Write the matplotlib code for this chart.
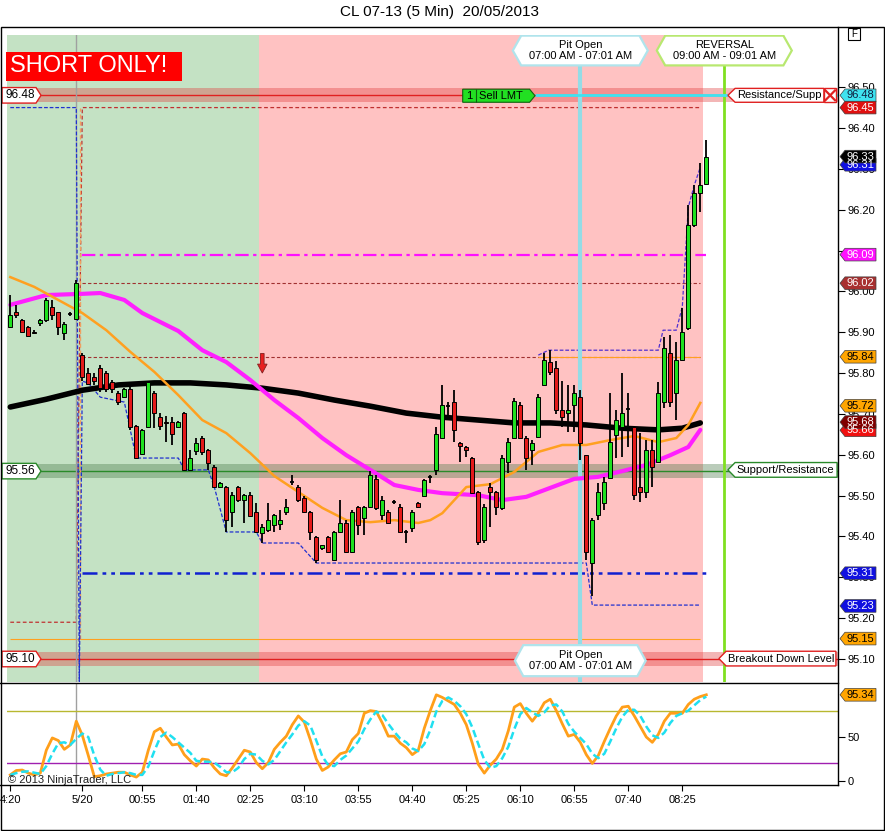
import matplotlib
matplotlib.use('Agg')
import matplotlib.pyplot as plt
from matplotlib.patches import Polygon, Rectangle
from matplotlib.lines import Line2D
from matplotlib.transforms import blended_transform_factory

plt.rcParams['font.family'] = ['Liberation Sans', 'DejaVu Sans']
plt.rcParams['font.size'] = 8

W, H = 885, 831

# 5 min bars (bar 0 = first bar on the left)
opens = [95.913, 95.949, 95.930, 95.913, 95.900, 95.922, 95.930, 95.962, 95.949, 95.898,
         95.945, 95.932, 95.844, 95.800, 95.790, 95.812, 95.800, 95.778, 95.751, 95.741,
         95.761, 95.670, 95.602, 95.668, 95.751, 95.692, 95.680, 95.680, 95.668, 95.702,
         95.563, 95.609, 95.641, 95.612, 95.570, 95.521, 95.521, 95.460, 95.521, 95.489,
         95.501, 95.460, 95.408, 95.416, 95.428, 95.430, 95.460, 95.533, 95.521, 95.494,
         95.460, 95.399, 95.372, 95.399, 95.342, 95.411, 95.433, 95.362, 95.472, 95.445,
         95.472, 95.540, 95.452, 95.460, 95.485, 95.472, 95.411, 95.420, 95.482, 95.500,
         95.545, 95.563, 95.641, 95.720, 95.729, 95.629, 95.619, 95.592, 95.509, 95.391,
         95.521, 95.509, 95.470, 95.582, 95.641, 95.722, 95.641, 95.612, 95.643, 95.771,
         95.827, 95.812, 95.710, 95.702, 95.722, 95.741, 95.599, 95.335, 95.452, 95.482,
         95.543, 95.648, 95.668, 95.712, 95.668, 95.521, 95.509, 95.612, 95.582, 95.729,
         95.849, 95.751, 95.832, 95.910, 96.162, 96.241, 96.263]
highs = [95.991, 95.966, 95.932, 95.915, 95.905, 95.932, 95.983, 95.978, 95.950, 95.925,
         95.950, 96.028, 95.850, 95.812, 95.800, 95.820, 95.805, 95.783, 95.755, 95.763,
         95.765, 95.672, 95.662, 95.780, 95.755, 95.702, 95.695, 95.692, 95.682, 95.704,
         95.612, 95.640, 95.645, 95.615, 95.575, 95.533, 95.523, 95.510, 95.523, 95.505,
         95.509, 95.482, 95.430, 95.482, 95.455, 95.465, 95.492, 95.550, 95.526, 95.500,
         95.462, 95.400, 95.380, 95.401, 95.413, 95.490, 95.440, 95.465, 95.475, 95.475,
         95.560, 95.550, 95.500, 95.465, 95.490, 95.480, 95.415, 95.465, 95.485, 95.540,
         95.550, 95.668, 95.771, 95.730, 95.758, 95.632, 95.622, 95.595, 95.511, 95.480,
         95.531, 95.511, 95.600, 95.640, 95.738, 95.730, 95.645, 95.635, 95.750, 95.850,
         95.856, 95.830, 95.780, 95.770, 95.770, 95.758, 95.600, 95.445, 95.531, 95.545,
         95.751, 95.710, 95.800, 95.751, 95.670, 95.653, 95.636, 95.636, 95.778, 95.888,
         95.893, 95.876, 95.960, 96.211, 96.260, 96.314, 96.370]
lows = [95.910, 95.934, 95.900, 95.890, 95.895, 95.915, 95.925, 95.930, 95.893, 95.881,
        95.940, 95.930, 95.780, 95.770, 95.770, 95.754, 95.754, 95.751, 95.722, 95.740,
        95.660, 95.590, 95.600, 95.665, 95.666, 95.660, 95.631, 95.624, 95.666, 95.560,
        95.560, 95.600, 95.600, 95.563, 95.519, 95.519, 95.411, 95.423, 95.485, 95.433,
        95.448, 95.408, 95.384, 95.411, 95.411, 95.416, 95.452, 95.525, 95.485, 95.458,
        95.391, 95.335, 95.367, 95.360, 95.340, 95.408, 95.360, 95.360, 95.404, 95.404,
        95.470, 95.465, 95.440, 95.430, 95.480, 95.410, 95.384, 95.410, 95.470, 95.498,
        95.530, 95.550, 95.640, 95.690, 95.631, 95.582, 95.595, 95.505, 95.380, 95.385,
        95.423, 95.452, 95.465, 95.555, 95.640, 95.640, 95.563, 95.575, 95.640, 95.770,
        95.796, 95.700, 95.668, 95.655, 95.655, 95.587, 95.342, 95.255, 95.440, 95.465,
        95.543, 95.592, 95.594, 95.619, 95.489, 95.484, 95.494, 95.521, 95.580, 95.714,
        95.717, 95.685, 95.830, 95.905, 96.157, 96.194, 96.260]
closes = [95.942, 95.942, 95.900, 95.890, 95.897, 95.930, 95.979, 95.942, 95.913, 95.920,
          95.946, 96.020, 95.790, 95.773, 95.780, 95.763, 95.761, 95.761, 95.729, 95.761,
          95.669, 95.592, 95.661, 95.778, 95.702, 95.670, 95.677, 95.651, 95.680, 95.563,
          95.592, 95.629, 95.607, 95.580, 95.521, 95.531, 95.440, 95.501, 95.489, 95.501,
          95.450, 95.411, 95.423, 95.440, 95.452, 95.440, 95.472, 95.534, 95.489, 95.460,
          95.411, 95.342, 95.379, 95.362, 95.411, 95.433, 95.362, 95.460, 95.428, 95.472,
          95.550, 95.470, 95.489, 95.433, 95.486, 95.411, 95.412, 95.460, 95.472, 95.538,
          95.546, 95.651, 95.722, 95.721, 95.660, 95.621, 95.612, 95.506, 95.386, 95.472,
          95.509, 95.472, 95.592, 95.631, 95.731, 95.641, 95.592, 95.629, 95.741, 95.832,
          95.803, 95.710, 95.692, 95.709, 95.751, 95.630, 95.362, 95.440, 95.509, 95.533,
          95.631, 95.685, 95.702, 95.713, 95.501, 95.509, 95.612, 95.570, 95.751, 95.861,
          95.729, 95.832, 95.900, 96.162, 96.241, 96.260, 96.329]

# moving averages (bar, price)
black_ma_x = [0, 6, 12, 18, 24, 30, 36, 42, 48, 54, 60, 66, 72, 78, 84, 90, 96, 102, 108, 112, 115]
black_ma_y = [95.717, 95.736, 95.758, 95.771, 95.776, 95.776, 95.771, 95.763, 95.751, 95.734, 95.719,
              95.702, 95.692, 95.685, 95.678, 95.678, 95.673, 95.665, 95.661, 95.665, 95.678]
magenta_ma_x = [0, 6, 12, 15, 19, 22, 28, 32, 36, 40, 44, 48, 52, 56, 60, 64, 68, 72, 78, 82, 86, 90,
                94, 98, 102, 106, 110, 113, 115]
magenta_ma_y = [95.967, 95.991, 95.994, 95.996, 95.979, 95.947, 95.903, 95.856, 95.827, 95.783, 95.734,
                95.690, 95.641, 95.599, 95.563, 95.526, 95.514, 95.506, 95.501, 95.489, 95.497, 95.519,
                95.541, 95.546, 95.560, 95.575, 95.599, 95.619, 95.661]
orange_ma_x = [0, 4, 8, 12, 16, 20, 24, 28, 32, 36, 40, 44, 48, 52, 56, 60, 64, 68, 70, 72, 74, 76, 80,
               84, 88, 92, 96, 100, 104, 108, 111, 113, 115]
orange_ma_y = [96.035, 96.011, 95.979, 95.947, 95.905, 95.852, 95.803, 95.746, 95.685, 95.653, 95.604,
               95.548, 95.509, 95.470, 95.440, 95.435, 95.440, 95.433, 95.440, 95.457, 95.489, 95.521,
               95.528, 95.558, 95.607, 95.624, 95.624, 95.636, 95.646, 95.631, 95.641, 95.673, 95.727]

# channel step lines
low_step_x = [0, 11, 11.5, 12, 13, 15, 19, 21, 28, 29, 33, 34, 36, 41, 42, 48, 51, 96, 97, 115]
low_step_y = [96.45, 96.45, 95.04, 95.78, 95.776, 95.741, 95.729, 95.592, 95.592, 95.563, 95.563,
              95.521, 95.411, 95.411, 95.384, 95.384, 95.335, 95.335, 95.232, 95.232]
high_step_x = [88, 89.7, 108, 108.8, 111, 112, 113, 114, 115]
high_step_y = [95.844, 95.856, 95.856, 95.905, 95.905, 95.962, 96.206, 96.26, 96.304]
red_step_x = [0, 11, 12, 115]
red_step_y = [95.19, 95.19, 96.45, 96.45]

# stochastics
stoch_k = [7, 12, 12.5, 9, 7, 9, 35, 49, 46, 36, 41, 68, 52, 29, 5, 6, 8, 9, 10, 10,
           7, 4.5, 10, 35, 56, 60, 50, 41, 42, 30, 23, 17, 25, 24, 15, 8, 6, 15, 25, 35,
           33, 21, 14, 21, 36, 44, 51, 64, 74, 67, 47, 25, 12, 16, 24, 31, 33, 47, 54, 77,
           80, 79, 66, 51, 51, 43, 38, 30, 35, 60, 80, 98, 95, 91, 87, 77, 64, 43, 19, 9,
           18, 25, 36, 57, 84, 88, 77, 68, 77, 89, 93, 80, 65, 51, 53, 44, 30, 20, 29, 45,
           60, 74, 84, 85, 74, 62, 50, 44, 53, 68, 77, 77, 77, 87, 93, 96, 98]
stoch_d = [7, 9, 10.5, 11, 9.5, 8, 17, 31, 43, 44, 41, 48, 54, 50, 29, 13, 6, 8, 9, 10,
           9, 7, 7, 16.5, 34, 50, 55, 50, 44, 38, 32, 23, 22, 22, 21, 16, 10, 10, 15, 25,
           31, 30, 23, 19, 24, 34, 44, 53, 63, 68, 63, 46, 28, 18, 17, 24, 29, 37, 45, 59,
           70, 79, 75, 65, 56, 48, 44, 37, 34, 42, 58, 79, 91, 95, 91, 85, 76, 61, 42, 24,
           15, 17, 26, 39, 59, 76, 83, 78, 74, 78, 86, 87, 79, 65, 56, 49, 42, 31, 26, 31,
           45, 60, 73, 81, 81, 74, 62, 52, 49, 55, 66, 74, 77, 80, 86, 92, 96]

tick_bars = [0, 12, 22, 31, 40, 49, 58, 67, 76, 85, 94, 103, 112]
tick_labels = ['4:20', '5/20', '00:55', '01:40', '02:25', '03:10', '03:55', '04:40',
               '05:25', '06:10', '06:55', '07:40', '08:25']

# right axis price markers
tag_prices = [96.48, 96.45, 96.31, 96.33, 96.09, 96.02, 95.84, 95.72, 95.66, 95.68, 95.31, 95.23, 95.15]
tag_faces = ['#3fe3f0', '#e01010', '#1010e0', '#000000', '#ff10ff', '#a83030', '#ffa500',
             '#ffa500', '#f01010', '#800000', '#1010e0', '#1010e0', '#ffa500']
tag_texts = ['#102040', 'white', 'white', 'white', 'white', 'white', 'black',
             'black', 'white', 'white', 'white', 'white', 'black']

green_zone = (-0.55, 41.5)
pink_zone = (41.5, 115.5)
xlim = (-0.55, 137.95)
ylim = (95.0437, 96.6277)

GREEN_UP = '#1fe01f'
RED_DN = '#e31a1a'

fig = plt.figure(figsize=(W / 100, H / 100), dpi=100)
fig.patch.set_facecolor('white')
ax = fig.add_axes([7 / W, (H - 682) / H, 831 / W, 647 / H])
ax2 = fig.add_axes([7 / W, (H - 785) / H, 831 / W, 102 / H])

for a in (ax, ax2):
    for s in a.spines.values():
        s.set_visible(False)
    a.set_xlim(*xlim)

ax.set_ylim(*ylim)
ax2.set_ylim(-4.5, 111.4)

# background sessions
ax.axvspan(*green_zone, color='#c4e2c4', lw=0, zorder=0)
ax.axvspan(*pink_zone, color='#ffc2c2', lw=0, zorder=0)

# key levels with bands
for lvl, col, bcol in [(96.48, '#e02020', '#e04040'), (95.10, '#e02020', '#e04040'),
                       (95.56, '#2a8a2a', '#4a7a4a')]:
    ax.axhspan(lvl - 0.017, lvl + 0.017, color=bcol, alpha=0.38, lw=0, zorder=1)
    ax.axhline(lvl, color=col, lw=1, zorder=1.5)

# dashed levels
ax.hlines(96.09, 12, 116, color='#ff10ff', lw=1.6, linestyles=(0, (6, 2, 1.5, 2)), zorder=2)
ax.hlines(96.02, 12, 115, color='#a03030', lw=0.8, linestyles=(0, (3, 2)), zorder=2)
ax.hlines(95.84, 12, 115, color='#a03030', lw=0.8, linestyles=(0, (3, 2)), zorder=2)
ax.hlines(95.84, 88, 115, color='#ffa020', lw=0.8, zorder=2)
ax.hlines(95.31, 12, 116, color='#1020d0', lw=1.8, linestyles=(0, (6, 2, 1.5, 2, 1.5, 2)), zorder=2)
ax.hlines(95.15, 0, 115, color='#ffa020', lw=0.8, zorder=2)
ax.plot(red_step_x, red_step_y, color='#c03030', lw=0.9, ls=(0, (3, 2)), zorder=2)
ax.vlines(11.6, 95.15, 96.45, color='#f0a060', lw=1, linestyles=(0, (3, 2)), zorder=2)
ax.plot(low_step_x, low_step_y, color='#2030d0', lw=0.9, ls=(0, (3, 1.5)), zorder=2.2)
ax.plot(high_step_x, high_step_y, color='#5030d0', lw=0.9, ls=(0, (3, 1.5)), zorder=2.2)

# vertical markers
ax.axvline(11, color='#a0a0a0', lw=1, zorder=2)
ax2.axvline(11, color='#a0a0a0', lw=1, zorder=1)
ax.axvline(95, color='#94dce6', lw=3, zorder=2.5)
ax.axvline(119, color='#80e020', lw=2, zorder=2.5)

# sell limit line
ax.hlines(96.48, 87.45, xlim[1], color='#3fe3f0', lw=2, zorder=6)

# moving averages
ax.plot(black_ma_x, black_ma_y, color='black', lw=4, solid_capstyle='round', zorder=3)
ax.plot(magenta_ma_x, magenta_ma_y, color='#ff20ff', lw=3, solid_capstyle='round', zorder=3)
ax.plot(orange_ma_x, orange_ma_y, color='#ffa020', lw=1.8, zorder=3)

# candles
bw = 0.72
for i, (o, h, l, c) in enumerate(zip(opens, highs, lows, closes)):
    ax.vlines(i, l, h, color='black', lw=1.3, zorder=4)
    if abs(c - o) < 0.003:
        ax.hlines((o + c) / 2, i - bw / 2, i + bw / 2, color='black', lw=1.3, zorder=5)
        continue
    col = GREEN_UP if c > o else RED_DN
    ax.add_patch(Rectangle((i - bw / 2, min(o, c)), bw, abs(c - o), fc=col, ec='black',
                           lw=0.7, zorder=5))

# entry arrow
arrow_bar, arrow_price = 42, 95.80
ax.add_patch(Polygon([(arrow_bar, arrow_price), (arrow_bar - 0.8, arrow_price + 0.022),
                      (arrow_bar - 0.3, arrow_price + 0.022), (arrow_bar - 0.3, arrow_price + 0.048),
                      (arrow_bar + 0.3, arrow_price + 0.048), (arrow_bar + 0.3, arrow_price + 0.022),
                      (arrow_bar + 0.8, arrow_price + 0.022)], closed=True,
                     fc='#e82020', ec='#802020', lw=0.6, zorder=6))

# right price axis (96.10 sits under the 96.09 marker)
yt = [round(95.10 + 0.1 * k, 2) for k in range(15)]
ax.yaxis.tick_right()
ax.set_yticks(yt)
ax.set_yticklabels(['' if abs(v - 96.10) < 1e-6 else '%.2f' % v for v in yt])
ax.tick_params(axis='y', length=5, width=0.8, pad=2, labelsize=8, direction='out')
ax.set_xticks([])

ax2.yaxis.tick_right()
ax2.set_yticks([0, 50])
ax2.tick_params(axis='y', length=5, width=0.8, pad=2, labelsize=8, direction='out')
ax2.set_xticks(tick_bars)
ax2.set_xticklabels(tick_labels)
ax2.tick_params(axis='x', length=4, width=0.8, pad=3, labelsize=8, direction='out')

# stochastics panel
ax2.axhline(80, color='#b8b830', lw=1, zorder=1)
ax2.axhline(20, color='#a020b0', lw=1, zorder=1)
xs = list(range(len(stoch_k)))
ax2.plot(xs, stoch_k, color='#ff9f1a', lw=2, zorder=3)
ax2.plot(xs, stoch_d, color='#20e0f0', lw=1.8, ls=(0, (3, 1.5)), zorder=4)
ax2.text(-0.3, 1, '\u00a9 2013 NinjaTrader, LLC', fontsize=8, color='#202020',
         ha='left', va='center', zorder=5)


def right_tag(a, y, h, face, tcol, text):
    tr = blended_transform_factory(a.transAxes, a.transData)
    x0, xb, x1 = 1 + 2 / 831, 1 + 7 / 831, 1 + 38 / 831
    a.add_patch(Polygon([(x0, y), (xb, y + h), (x1, y + h), (x1, y - h), (xb, y - h)],
                        closed=True, transform=tr, fc=face, ec='#404040', lw=0.5,
                        clip_on=False, zorder=10))
    a.text((xb + x1) / 2, y, text, transform=tr, ha='center', va='center', fontsize=8,
           color=tcol, clip_on=False, zorder=11)


for p, fc, tc in zip(tag_prices, tag_faces, tag_texts):
    right_tag(ax, p, 0.0155, fc, tc, '%.2f' % p)
right_tag(ax2, 98, 7.2, '#ffa500', 'black', '95.34')


def left_label(a, y, text, edge):
    tr = blended_transform_factory(a.transAxes, a.transData)
    x0, x1, xt = -5 / 831, 29 / 831, 34 / 831
    h = 0.019
    a.add_patch(Polygon([(x0, y + h), (x1, y + h), (xt, y), (x1, y - h), (x0, y - h)],
                        closed=True, transform=tr, fc='white', ec=edge, lw=1,
                        clip_on=False, zorder=9))
    a.text(x0 + 4 / 831, y, text, transform=tr, ha='left', va='center', fontsize=8.5,
           zorder=10, clip_on=False)


left_label(ax, 96.48, '96.48', '#e02020')
left_label(ax, 95.56, '95.56', '#2a8a2a')
left_label(ax, 95.10, '95.10', '#e02020')


def inner_label(a, x0, x1, y, text, edge, h=0.018):
    a.add_patch(Polygon([(x0, y), (x0 + 1.2, y + h), (x1, y + h), (x1, y - h), (x0 + 1.2, y - h)],
                        closed=True, fc='white', ec=edge, lw=1, zorder=7))
    a.text(x0 + 1.5, y, text, ha='left', va='center', fontsize=8, zorder=8, clip_on=True)


inner_label(ax, 119.6, 137.8, 95.563, 'Support/Resistance', '#2a8a2a')
inner_label(ax, 118.1, 137.6, 95.101, 'Breakout Down Level', '#e02020')
inner_label(ax, 119.6, 135.6, 96.48, 'Resistance/Supp', '#e02020', h=0.017)
ax.add_patch(Rectangle((135.6, 96.463), 2.1, 0.034, fc='white', ec='#e02020', lw=1, zorder=8))
ax.plot([135.85, 137.45], [96.468, 96.492], color='#e02020', lw=1.6, zorder=9)
ax.plot([135.85, 137.45], [96.492, 96.468], color='#e02020', lw=1.6, zorder=9)

# sell limit order tag
sx0, sx1, sy = 75.4, 87.45, 96.479
ax.add_patch(Polygon([(sx0, sy + 0.016), (sx1 - 0.9, sy + 0.016), (sx1, sy),
                      (sx1 - 0.9, sy - 0.016), (sx0, sy - 0.016)], closed=True,
                     fc='#22e022', ec='#106010', lw=0.8, zorder=8))
ax.vlines(77.6, sy - 0.016, sy + 0.016, color='#106010', lw=0.8, zorder=9)
ax.text(76.5, sy, '1', ha='center', va='center', fontsize=8, zorder=9)
ax.text(78.2, sy, 'Sell LMT', ha='left', va='center', fontsize=8, zorder=9)


def hex_box(a, xc, half, y0, y1, edge, lines):
    tr = blended_transform_factory(a.transData, a.transAxes)
    d = 1.4
    ym = (y0 + y1) / 2
    a.add_patch(Polygon([(xc - half, ym), (xc - half + d, y1), (xc + half - d, y1), (xc + half, ym),
                         (xc + half - d, y0), (xc - half + d, y0)], closed=True, transform=tr,
                        fc='white', ec=edge, lw=1.6, zorder=8))
    a.text(xc, ym, lines, transform=tr, ha='center', va='center', fontsize=8,
           linespacing=1.2, zorder=9)


hex_box(ax, 95, 11.25, 0.953, 0.999, '#b0e4ec', 'Pit Open\n07:00 AM - 07:01 AM')
hex_box(ax, 119, 11.25, 0.953, 0.999, '#b8e870', 'REVERSAL\n09:00 AM - 09:01 AM')
hex_box(ax, 95, 10.9, 0.009, 0.057, '#b0e4ec', 'Pit Open\n07:00 AM - 07:01 AM')

# banner
tr_b = blended_transform_factory(fig.transFigure, fig.transFigure)
fig.add_artist(Rectangle((6 / W, 1 - 81 / H), 176 / W, 29 / H, transform=tr_b,
                         fc='#ff0000', ec='none', zorder=20))
fig.text(10 / W, 1 - 66.5 / H, 'SHORT ONLY!', color='white', fontsize=17,
         ha='left', va='center', zorder=21)

# title and frame
fig.text(440 / W, 1 - 12 / H, 'CL 07-13 (5 Min)  20/05/2013', fontsize=11,
         ha='center', va='center')
fig.add_artist(Rectangle((0.5 / W, 1 - 830 / H), 883.5 / W, 803 / H, transform=tr_b,
                         fill=False, ec='black', lw=1))
fig.add_artist(Line2D([838 / W, 838 / W], [1 - 27 / H, 1 - 785 / H], color='black', lw=1))
fig.add_artist(Line2D([0, 838 / W], [1 - 683 / H, 1 - 683 / H], color='black', lw=1))
fig.add_artist(Line2D([0, 838 / W], [1 - 785 / H, 1 - 785 / H], color='black', lw=1))
fig.add_artist(Rectangle((848 / W, 1 - 40 / H), 12 / W, 12 / H, transform=tr_b,
                         fill=False, ec='black', lw=0.8))
fig.text(854 / W, 1 - 34 / H, 'F', fontsize=7, ha='center', va='center')

fig.savefig('out.png', dpi=100)
